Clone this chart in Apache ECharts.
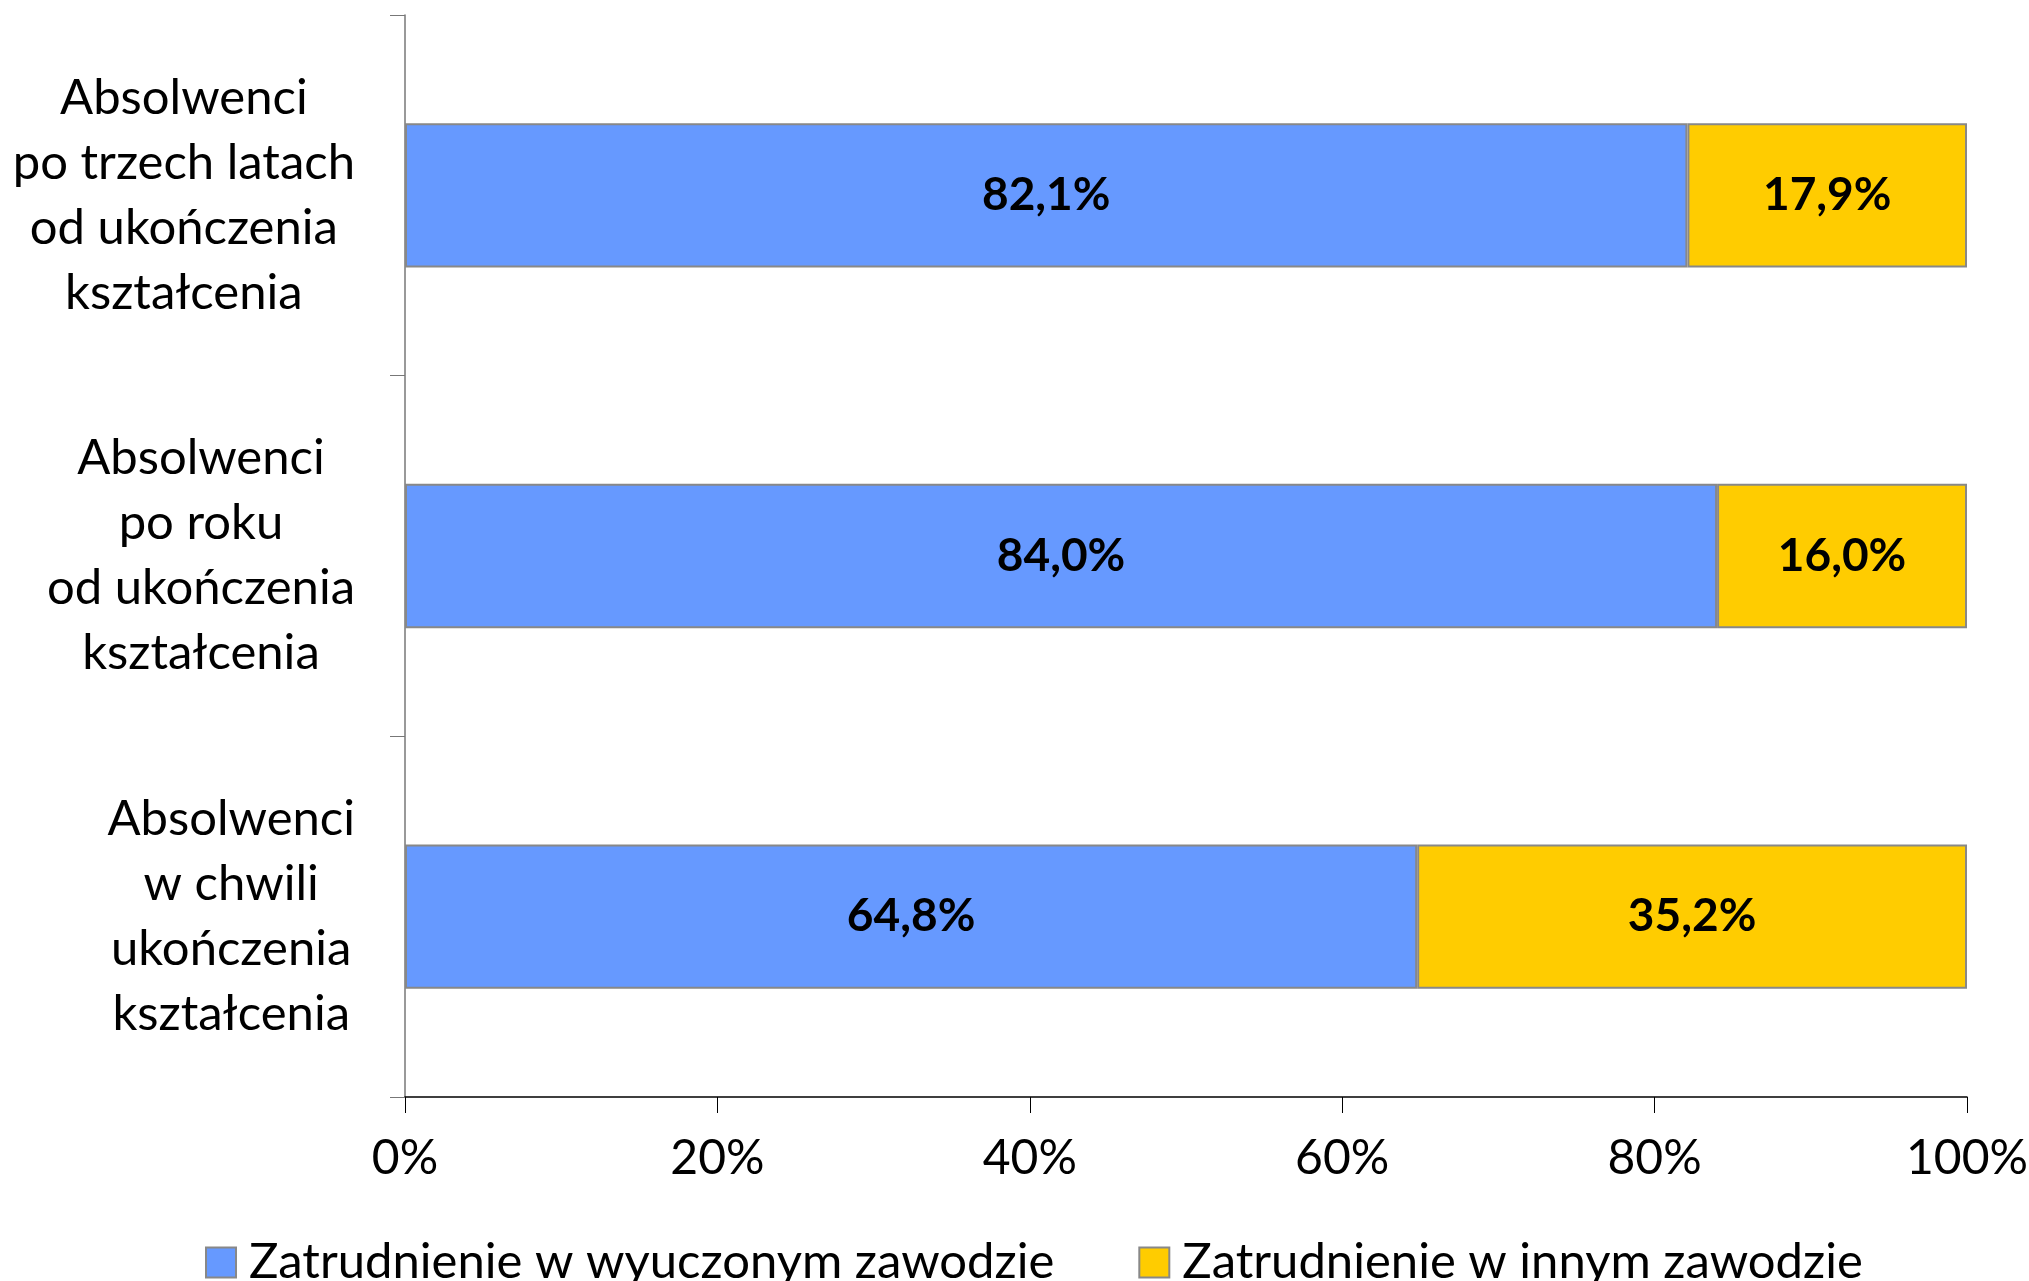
<!DOCTYPE html>
<html>
<head>
<meta charset="utf-8">
<script src="https://cdn.jsdelivr.net/npm/echarts@6/dist/echarts.min.js"></script>
<style>
  html, body { margin: 0; padding: 0; background: #fff; }
  #chart { width: 2029px; height: 1281px; }
</style>
</head>
<body>
<div id="chart"></div>
<script>
// dane wykresu
var categories = [
  'Absolwenci\nw chwili\nukończenia\nkształcenia',
  'Absolwenci\npo roku\nod ukończenia\nkształcenia',
  'Absolwenci\npo trzech latach\nod ukończenia\nkształcenia'
];
var seriesNames = ['Zatrudnienie w wyuczonym zawodzie', 'Zatrudnienie w innym zawodzie'];
var inProfession = [64.8, 84.0, 82.1];
var otherProfession = [35.2, 16.0, 17.9];
var xTicks = [0, 20, 40, 60, 80, 100];

var FONT = "Lato, 'Liberation Sans', sans-serif";

var myChart = echarts.init(document.getElementById('chart'));

// każda linia etykiety wyśrodkowana
function centerLines(v) {
  return v.split('\n').map(function (l) { return '{c|' + l + '}'; }).join('\n');
}

function pct(p) {
  return p.value.toFixed(1).replace('.', ',') + '%';
}

var option = {
  backgroundColor: '#fff',
  animation: false,
  textStyle: { fontFamily: FONT, color: '#000' },
  grid: { left: 405, right: 62, top: 15, bottom: 184, outerBoundsMode: 'none', containLabel: false },
  legend: {
    left: 200,
    top: 1233,
    icon: 'rect',
    itemWidth: 30,
    itemHeight: 30,
    itemGap: 84,
    textStyle: { fontFamily: FONT, fontSize: 49, color: '#000', padding: [0, 0, 0, 8] },
    data: seriesNames
  },
  xAxis: {
    type: 'value',
    min: 0,
    max: 100,
    interval: 20,
    splitLine: { show: false },
    axisLine: { show: true, lineStyle: { color: '#000', width: 1.5 } },
    axisTick: { show: true, length: 16, lineStyle: { color: '#000' } },
    axisLabel: {
      margin: 38,
      fontFamily: FONT,
      fontSize: 48,
      color: '#000',
      formatter: function (v) { return xTicks.indexOf(v) >= 0 ? v + '%' : ''; }
    }
  },
  yAxis: {
    type: 'category',
    data: categories,
    axisLine: { show: true, lineStyle: { color: '#777', width: 1.5 } },
    axisTick: { show: true, length: 15, lineStyle: { color: '#777' } },
    axisLabel: {
      margin: 50,
      fontFamily: FONT,
      fontSize: 49,
      color: '#000',
      lineHeight: 65,
      formatter: centerLines,
      rich: { c: { align: 'center', fontFamily: FONT, fontSize: 49, lineHeight: 65, color: '#000' } }
    }
  },
  series: [
    {
      name: seriesNames[0],
      type: 'bar',
      stack: 'all',
      barWidth: '40%',
      data: inProfession,
      itemStyle: { color: '#6699FF', borderColor: '#888', borderWidth: 2 },
      label: {
        show: true,
        position: 'inside',
        fontFamily: FONT,
        fontWeight: 'bold',
        fontSize: 46,
        color: '#000',
        formatter: pct
      }
    },
    {
      name: seriesNames[1],
      type: 'bar',
      stack: 'all',
      barWidth: '40%',
      data: otherProfession,
      itemStyle: { color: '#FFCC00', borderColor: '#888', borderWidth: 2 },
      label: {
        show: true,
        position: 'inside',
        fontFamily: FONT,
        fontWeight: 'bold',
        fontSize: 46,
        color: '#000',
        formatter: pct
      }
    }
  ]
};

myChart.setOption(option);
</script>
</body>
</html>
